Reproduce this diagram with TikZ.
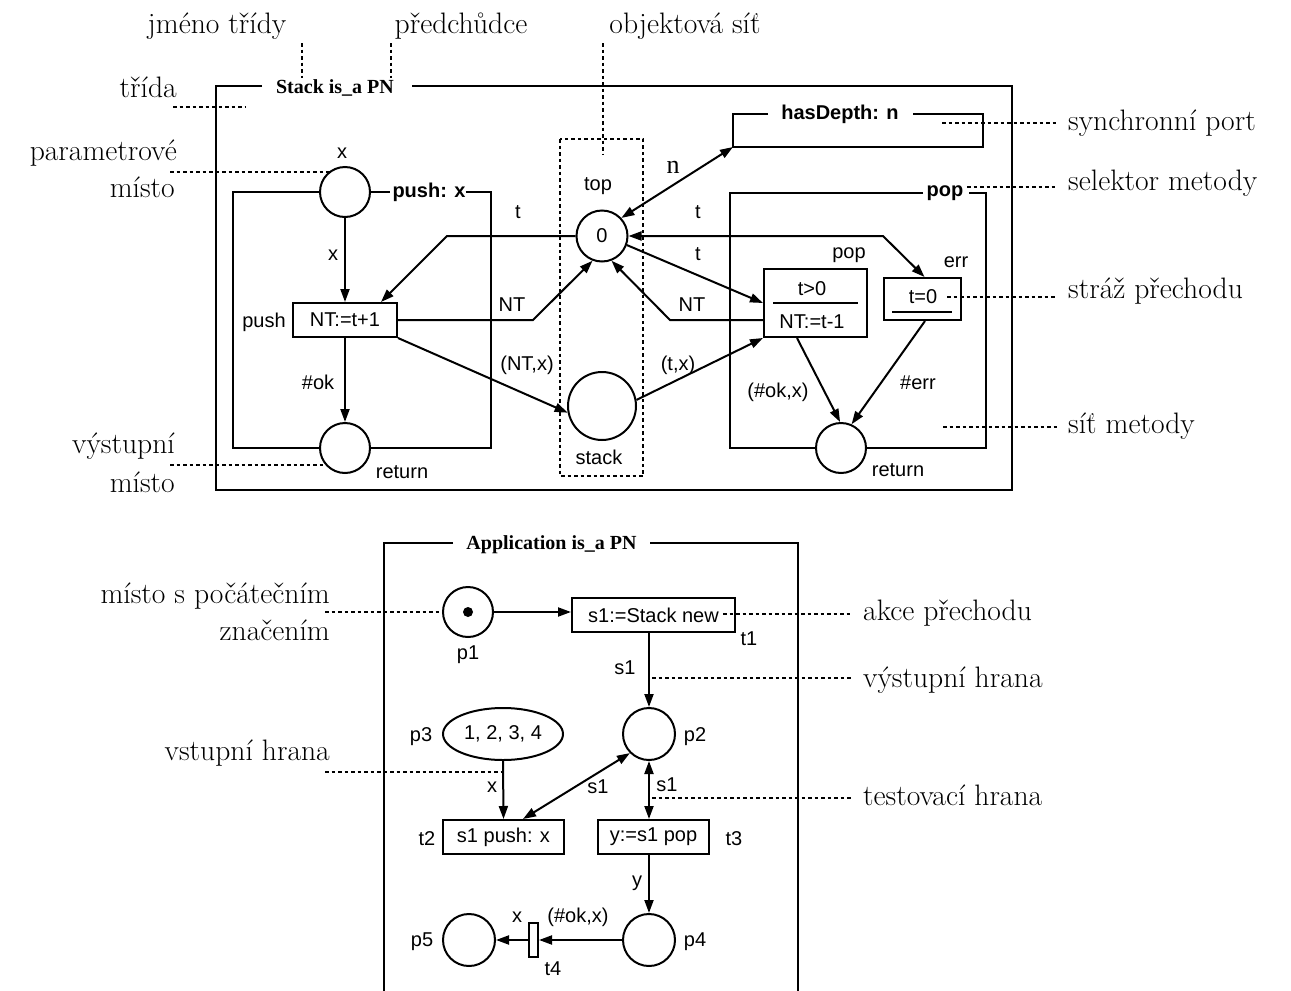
\documentclass[tikz,border=0pt]{standalone}
\usepackage{fontspec}
\newfontfamily\sansf{Liberation Sans}
\newfontfamily\seriff{Liberation Serif}
\usetikzlibrary{arrows.meta,calc,shapes.geometric}

\tikzset{
  net/.style={line width=2pt},
  lead/.style={line width=1.5pt, dash pattern=on 3.5pt off 3pt},
  arc/.style={net, -{Triangle[length=13pt,width=9pt]}},
  biarc/.style={net, {Triangle[length=13pt,width=9pt]}-{Triangle[length=13pt,width=9pt]}},
  place/.style={circle, draw, net, inner sep=0pt, minimum size=50pt, font=\sansf\fontsize{20}{24}\selectfont},
  trans/.style={rectangle, draw, net, inner sep=0pt, minimum height=34pt, font=\sansf\fontsize{20}{24}\selectfont},
  lab/.style={inner sep=0pt, font=\sansf\fontsize{20}{24}\selectfont},
  note/.style={inner sep=0pt, font=\fontsize{29.6}{36}\selectfont},
  title/.style={inner sep=0pt, font=\seriff\bfseries\fontsize{20}{24}\selectfont},
  sel/.style={inner sep=0pt, font=\sansf\bfseries\fontsize{20}{24}\selectfont},
}

\begin{document}
\begin{tikzpicture}[x=1pt,y=-1pt]
\useasboundingbox (0,0) rectangle (1291,991);

% ---------------- class Stack ----------------
\node[title] (stacktitle) at (335,88) {Stack is\_a PN};
\draw[net] (262,86) -- (216,86) -- (216,490) -- (1012,490) -- (1012,86) -- (412,86);

% object net (dashed box)
\draw[lead] (560,139) rectangle (643,476);
\node[lab] (toplbl) at (598,186) {top};
\node[place, minimum size=51pt] (top0) at (602,236) {0};
\node[place, minimum size=68pt] (stack) at (602,406) {};
\node[lab] (stacklbl) at (599,457) {stack};

% method push
\node[place] (px) at (345,192) {};
\node[place] (pret) at (345,448) {};
\node[sel] (pushsel) at (429,192) {push: x};
\draw[net] (px.west) -- (233,192) -- (233,448) -- (pret.west);
\draw[net] (px.east) -- ([xshift=-2pt]pushsel.west);
\draw[net] (pushsel.east) -- (491,192) -- (491,448) -- (pret.east);
\node[trans, minimum width=104pt] (push) at (345,320) {NT:=t+1};
\node[lab] (pushlbl) at (264,322) {push};
\node[lab] (pxlbl) at (342,153) {x};
\node[lab] (pretlbl) at (402,472) {return};

% synchronous port
\node[sel] (hdsel) at (840,114) {hasDepth: n};
\draw[net] (768,114) -- (733,114) -- (733,147) -- (983,147) -- (983,114) -- (913,114);
\coordinate (hdport) at (733,147);

% method pop
\node[sel] (popsel) at (945,193) {pop};
\node[place] (pret2) at (841,448) {};
\draw[net] (923,193) -- (730,193) -- (730,448) -- (pret2.west);
\draw[net] (969,193) -- (986,193) -- (986,448) -- (pret2.east);
\node[lab] (pret2lbl) at (898,470) {return};

\node[trans, minimum width=103pt, minimum height=68pt] (popt) at (815.5,303) {};
\node[lab] (popguard) at (812,289) {t>0};
\draw[net] ($(popt.center)+(-42.5,0)$) -- ($(popt.center)+(42.5,0)$);
\node[lab] (popact) at (812,322) {NT:=t-1};
\node[lab] (poplbl) at (849,255) {pop};

\node[trans, minimum width=77pt, minimum height=42pt] (errt) at (922.5,299) {};
\node[lab] (errguard) at (923,297) {t=0};
\draw[net] ($(errt.center)+(-30.5,13)$) -- ($(errt.center)+(29.5,13)$);
\node[lab] (errlbl) at (956,262) {err};

% arcs of the Stack class
\draw[arc] (px.south) -- (push.north);
\draw[arc] (push.south) -- (pret.north);
\draw[arc] (top0.west) -- (447,236) -- ([xshift=-17pt]push.north east);
\draw[arc] (push.east) -- (533,320) -- (top0.249);
\draw[arc] (push.south east) -- (stack.191);
\draw[arc] (stack.10) -- (popt.south west);
\draw[arc] ([yshift=-17pt]popt.west) -- (670,320) -- (top0.291);
\draw[arc] (top0.-20) -- (popt.west);
\draw[biarc] (top0.east) -- (883,236) -- ([xshift=2pt]errt.north);
\draw[biarc] (top0.43) -- (hdport);
\draw[arc] ([xshift=34pt]popt.south west) -- (pret2.92);
\draw[arc] ([xshift=42pt]errt.south west) -- (pret2.66);

% arc inscriptions
\node[lab] at (333,255) {x};
\node[lab] at (318,382) {\#ok};
\node[lab] at (518,212) {t};
\node[lab] at (512,305) {NT};
\node[lab] at (527,365) {(NT,x)};
\node[inner sep=0pt, font=\seriff\fontsize{26}{30}\selectfont] at (673,167) {n};
\node[lab] at (698,212) {t};
\node[lab] at (698,254) {t};
\node[lab] at (692,305) {NT};
\node[lab] at (678,365) {(t,x)};
\node[lab] at (778,392) {(\#ok,x)};
\node[lab] at (918,383) {\#err};

% ---------------- class Application ----------------
\node[title] (apptitle) at (551.5,545) {Application is\_a PN};
\draw[net] (453,543) -- (384,543) -- (384,991);
\draw[net] (650,543) -- (798,543) -- (798,991);

\node[place] (p1) at (468,612) {};
\node[circle, fill, inner sep=0pt, minimum size=10pt] (tok) at (p1.center) {};
\node[lab] (p1lbl) at (468,655) {p1};
\node[trans, minimum width=163pt] (t1) at (653.5,615) {s1:=Stack new\hspace{14pt}};
\node[lab] (t1lbl) at (749,639) {t1};
\node[place, minimum size=52pt] (p2) at (649,734) {};
\node[lab] (p2lbl) at (695,737) {p2};
\node[ellipse, draw, net, inner sep=0pt, minimum width=120pt, minimum height=52pt,
      font=\sansf\fontsize{20}{24}\selectfont] (p3) at (503,734) {1, 2, 3, 4};
\node[lab] (p3lbl) at (421,737) {p3};
\node[trans, minimum width=121pt] (t2) at (503.5,837) {s1 push: x\hspace{9pt}};
\node[lab] (t2lbl) at (427,839) {t2};
\node[trans, minimum width=111pt] (t3) at (653.5,837) {y:=s1 pop\hspace{5pt}};
\node[lab] (t3lbl) at (734,839) {t3};
\node[place, minimum size=52pt] (p4) at (649,940) {};
\node[lab] (p4lbl) at (695,942) {p4};
\node[draw, net, inner sep=0pt, minimum width=9pt, minimum height=34pt] (t4) at (533.5,940) {};
\node[lab] (t4lbl) at (553,969) {t4};
\node[place, minimum size=52pt] (p5) at (469,940) {};
\node[lab] (p5lbl) at (422,942) {p5};

\draw[arc] (p1.east) -- (p1.east -| t1.west);
\draw[arc] (t1.south -| p2) -- (p2.north);
\draw[arc] (p3.south) -- (t2.north);
\draw[biarc] ([xshift=19.5pt]t2.north) -- (p2.225);
\draw[biarc] (p2.south) -- (t3.north -| p2);
\draw[arc] (t3.south -| p4) -- (p4.north);
\draw[arc] (p4.west) -- (t4.east);
\draw[arc] (t4.west) -- (p5.east);

\node[lab] at (625,668) {s1};
\node[lab] at (492,787) {x};
\node[lab] at (598,787) {s1};
\node[lab] at (667,785) {s1};
\node[lab] at (637,883) {y};
\node[lab] at (578,917) {(\#ok,x)};
\node[lab] at (517,917) {x};

% ---------------- explanatory notes ----------------
\node[note, anchor=base] (njmeno) at (217,33) {jméno třídy};
\draw[lead] (302,43) -- (302,78);
\node[note, anchor=base] (npred) at (461,33) {předchůdce};
\draw[lead] (391,43) -- (391,78);
\node[note, anchor=base] (nobj) at (685,33) {objektová síť};
\draw[lead] (603,43) -- (603,155);

\node[note, anchor=base east] (ntrida) at (177,97) {třída};
\draw[lead] (173,107) -- (245,107);
\node[note, anchor=base east] (nparam1) at (177,160) {parametrové};
\node[note, anchor=base east] (nparam2) at (175,197) {místo};
\draw[lead] (170,172) -- (330,172);
\node[note, anchor=base east] (nvyst1) at (175,453) {výstupní};
\node[note, anchor=base east] (nvyst2) at (175,492) {místo};
\draw[lead] (170,465) -- (323,465);

\node[note, anchor=base west] (nsync) at (1068,130) {synchronní port};
\draw[lead] (942,123) -- (1057,123);
\node[note, anchor=base west] (nsel) at (1068,190) {selektor metody};
\draw[lead] (967,187) -- (1057,187);
\node[note, anchor=base west] (nstraz) at (1068,298) {stráž přechodu};
\draw[lead] (947,297) -- (1057,297);
\node[note, anchor=base west] (nsit) at (1068,433) {síť metody};
\draw[lead] (943,427) -- (1057,427);

\node[note, anchor=base east] (nmisto1) at (330,603) {místo s počátečním};
\node[note, anchor=base east] (nmisto2) at (330,640) {značením};
\draw[lead] (325,612) -- (p1.west);
\node[note, anchor=base east] (nvstup) at (330,760) {vstupní hrana};
\draw[lead] (325,772) -- (504,772);

\node[note, anchor=base west] (nakce) at (863,620) {akce přechodu};
\draw[lead] (723,614) -- (852,614);
\node[note, anchor=base west] (nvysth) at (863,687) {výstupní hrana};
\draw[lead] (652,678) -- (852,678);
\node[note, anchor=base west] (ntest) at (863,805) {testovací hrana};
\draw[lead] (652,798) -- (852,798);
\end{tikzpicture}
\end{document}
